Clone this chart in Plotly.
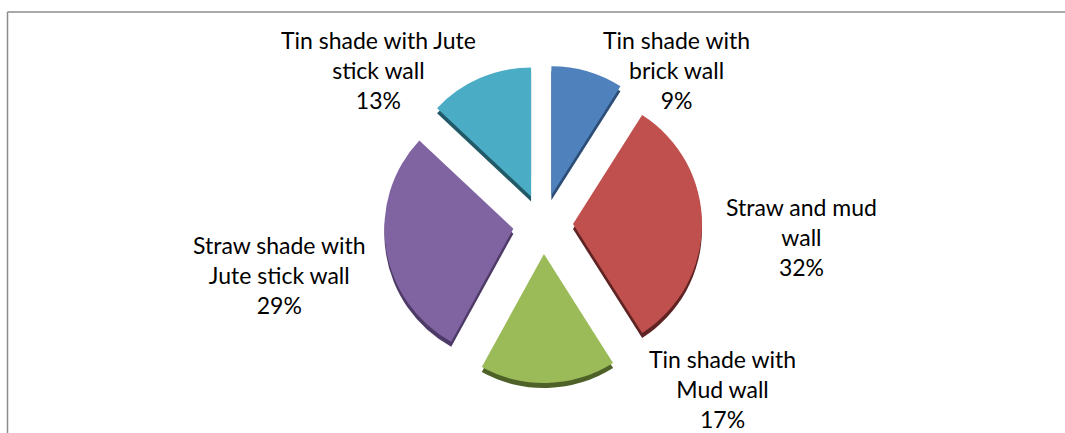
import plotly.graph_objects as go

# ---- data ----
categories = ["Tin shade with brick wall", "Straw and mud wall", "Tin shade with Mud wall",
              "Straw shade with Jute stick wall", "Tin shade with Jute stick wall"]
label_lines = ["Tin shade with<br>brick wall", "Straw and mud<br>wall", "Tin shade with<br>Mud wall",
               "Straw shade with<br>Jute stick wall", "Tin shade with Jute<br>stick wall"]
values = [9, 32, 17, 29, 13]

# ---- style ----
W, H = 1065, 433
colors = ["#4F81BD", "#C0504D", "#9BBB59", "#8064A2", "#4BACC6"]
side_colors = ["#2C4D75", "#5E2322", "#4E6128", "#4E3A66", "#215967"]
r_eff = 129                # visible radius in pixels
pull = 30 / r_eff          # explode distance ~30 px
cx, cy = 543, 224          # pie centre in pixels
depth = 5                  # 3D thickness in pixels
label_pos = [(676, 70), (801, 237), (722, 389), (279, 275), (378, 70)]

R_full = r_eff * (1 + pull)
def dom(dy=0):
    return dict(x=[(cx - R_full - 60) / W, (cx + R_full + 60) / W],
                y=[1 - (cy + dy + R_full) / H, 1 - (cy + dy - R_full) / H])

fig = go.Figure()
common = dict(labels=categories, values=values, sort=False, direction="clockwise",
              rotation=0, pull=[pull] * len(values), textinfo="none",
              hoverinfo="label+percent", showlegend=False)
fig.add_trace(go.Pie(marker=dict(colors=side_colors, line=dict(width=0)),
                     domain=dom(depth), **common))
fig.add_trace(go.Pie(marker=dict(colors=colors, line=dict(width=0)),
                     domain=dom(0), **common))

for (px, py), txt, v in zip(label_pos, label_lines, values):
    fig.add_annotation(x=px / W, y=1 - py / H, xref="paper", yref="paper",
                       text=f"{txt}<br>{v}%", showarrow=False,
                       xanchor="center", yanchor="middle", align="center",
                       font=dict(family="Lato", size=23, color="#000000"))

# chart frame
fig.add_shape(type="line", xref="paper", yref="paper", x0=7.5 / W, x1=7.5 / W,
              y0=0, y1=1 - 12 / H, line=dict(color="#8C8C8C", width=1.5))
fig.add_shape(type="line", xref="paper", yref="paper", x0=7.5 / W, x1=1,
              y0=1 - 12 / H, y1=1 - 12 / H, line=dict(color="#8C8C8C", width=1.5))

fig.update_layout(width=W, height=H, margin=dict(l=0, r=0, t=0, b=0),
                  paper_bgcolor="white", plot_bgcolor="white")
fig.write_html("out.html", config={"displayModeBar": False},
               post_script="document.body.style.margin='0';document.body.style.overflow='hidden';")
